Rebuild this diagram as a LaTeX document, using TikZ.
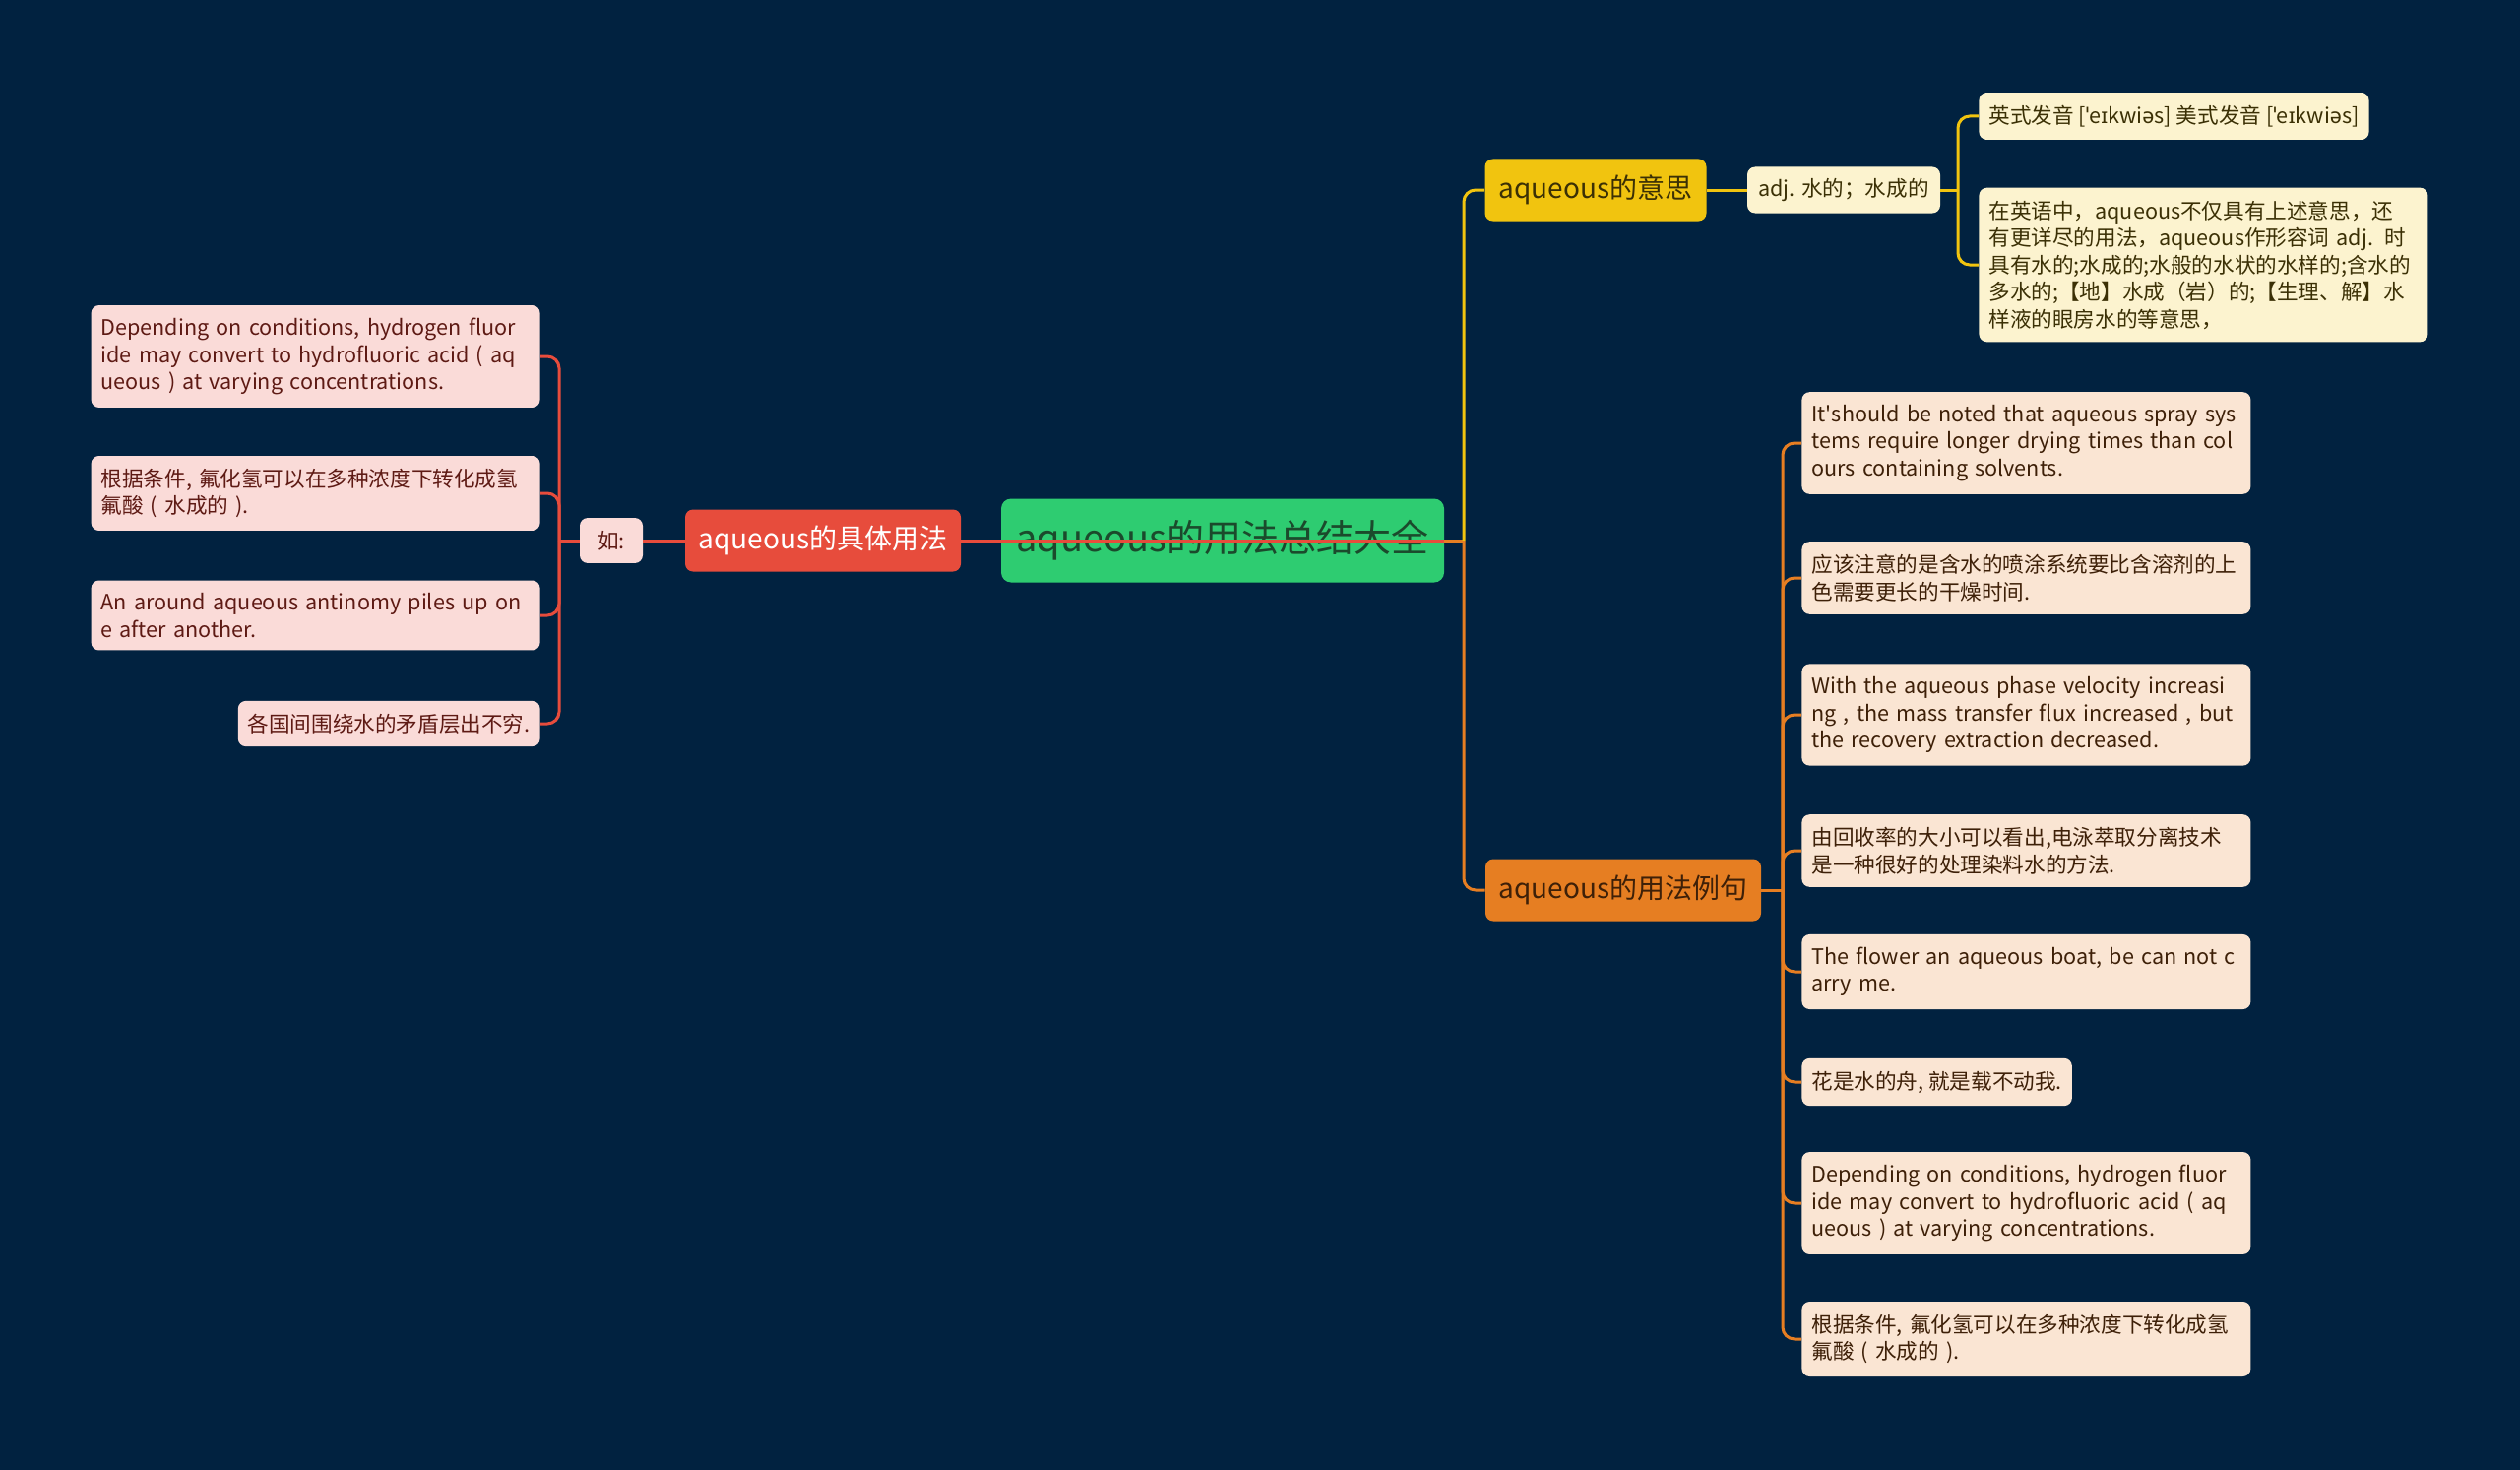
\documentclass[tikz,border=0pt]{standalone}
\usepackage{fontspec}
\setmainfont{Noto Sans CJK SC}
\newfontfamily\ipafont{Noto Sans}
\newcommand{\ipa}[1]{{\ipafont #1}}
\usetikzlibrary{positioning}

\definecolor{bgnavy}{HTML}{012240}
\definecolor{rootgreen}{HTML}{2ECC71}
\definecolor{rootink}{HTML}{1B4A2C}
\definecolor{usered}{HTML}{E74C3C}
\definecolor{meanyellow}{HTML}{F1C40F}
\definecolor{exorange}{HTML}{E67E22}
\definecolor{pinkleaf}{HTML}{FADBD8}
\definecolor{creamleaf}{HTML}{FCF3CF}
\definecolor{peachleaf}{HTML}{FAE5D3}
\definecolor{redink}{HTML}{5E1A14}
\definecolor{yellowink}{HTML}{3B3005}
\definecolor{orangeink}{HTML}{3E2008}

\tikzset{
  topic/.style={rounded corners=4pt,inner sep=0pt,minimum height=31.5pt,
    font=\fontsize{14pt}{17pt}\selectfont},
  leaf/.style={rounded corners=4pt,inner xsep=5pt,inner ysep=6.5pt,align=left,
    font=\fontsize{10.8pt}{13.75pt}\selectfont},
  pinkleafbox/.style={leaf,fill=pinkleaf,text=redink},
  creamleafbox/.style={leaf,fill=creamleaf,text=yellowink},
  peachleafbox/.style={leaf,fill=peachleaf,text=orangeink},
  wideleaf/.style={text width=218pt},
  link/.style={line width=1.5pt,rounded corners=6pt},
}

\begin{document}
\begin{tikzpicture}[x=0.5pt,y=-0.5pt]
\useasboundingbox (0,0) rectangle (2560,1493);
\fill[bgnavy] (0,0) rectangle (2560,1493);

\node[fill=rootgreen,text=rootink,rounded corners=5pt,minimum width=225pt,minimum height=42.5pt,
  font=\fontsize{19pt}{23pt}\selectfont] (root) at (1242,549) {aqueous的用法总结大全};

\node[topic,fill=usered,text=white,minimum width=140pt] (use) at (836,549) {aqueous的具体用法};
\node[pinkleafbox,minimum width=32pt,minimum height=22.5pt,inner xsep=0pt] (ru) at (621,549) {如:};
\node[pinkleafbox,wideleaf,anchor=east] (l1) at (549,362)
  {Depending on conditions, hydrogen fluor\\ide may convert to hydrofluoric acid ( aq\\ueous ) at varying concentrations.};
\node[pinkleafbox,wideleaf,anchor=east] (l2) at (549,501)
  {根据条件, 氟化氢可以在多种浓度下转化成氢\\氟酸 ( 水成的 ).};
\node[pinkleafbox,wideleaf,anchor=east] (l3) at (549,625)
  {An around aqueous antinomy piles up on\\e after another.};
\node[pinkleafbox,anchor=east] (l4) at (549,735) {各国间围绕水的矛盾层出不穷.};

\node[topic,fill=meanyellow,text=yellowink,minimum width=112.5pt] (mean) at (1621,193) {aqueous的意思};
\node[creamleafbox,minimum width=98pt,minimum height=23.5pt,inner ysep=0pt] (adj) at (1873,193) {adj. 水的；水成的};
\node[creamleafbox,anchor=west] (y1) at (2010,118)
  {英式发音 [\ipa{ˈ}e\ipa{ɪ}kwi\ipa{ə}s] 美式发音 [\ipa{ˈ}e\ipa{ɪ}kwi\ipa{ə}s]};
\node[creamleafbox,wideleaf,anchor=west] (y2) at (2010,269)
  {在英语中，aqueous不仅具有上述意思，还\\有更详尽的用法，aqueous作形容词 adj. 时\\具有水的;水成的;水般的水状的水样的;含水的\\多水的;【地】水成（岩）的;【生理、解】水\\样液的眼房水的等意思，};

\node[topic,fill=exorange,text=orangeink,minimum width=140pt] (ex) at (1649,904) {aqueous的用法例句};
\node[peachleafbox,wideleaf,anchor=west] (o1) at (1830,450)
  {It\textquotesingle should be noted that aqueous spray sys\\tems require longer drying times than col\\ours containing solvents.};
\node[peachleafbox,wideleaf,anchor=west] (o2) at (1830,587)
  {应该注意的是含水的喷涂系统要比含溶剂的上\\色需要更长的干燥时间.};
\node[peachleafbox,wideleaf,anchor=west] (o3) at (1830,726)
  {With the aqueous phase velocity increasi\\ng , the mass transfer flux increased , but\\the recovery extraction decreased.};
\node[peachleafbox,wideleaf,anchor=west] (o4) at (1830,864)
  {由回收率的大小可以看出,电泳萃取分离技术\\是一种很好的处理染料水的方法.};
\node[peachleafbox,wideleaf,anchor=west] (o5) at (1830,987)
  {The flower an aqueous boat, be can not c\\arry me.};
\node[peachleafbox,anchor=west] (o6) at (1830,1099) {花是水的舟, 就是载不动我.};
\node[peachleafbox,wideleaf,anchor=west] (o7) at (1830,1222)
  {Depending on conditions, hydrogen fluor\\ide may convert to hydrofluoric acid ( aq\\ueous ) at varying concentrations.};
\node[peachleafbox,wideleaf,anchor=west] (o8) at (1830,1360)
  {根据条件, 氟化氢可以在多种浓度下转化成氢\\氟酸 ( 水成的 ).};

\coordinate (rj) at (1487,549);
\coordinate (lb) at (568,549);
\coordinate (yb) at (1989,193);
\coordinate (ob) at (1811,904);

\draw[link,usered] (rj) -- (use.east);
\draw[link,exorange] (root.east) -- (rj);
\draw[link,meanyellow] (rj) |- (mean.west);
\draw[link,exorange] (rj) |- (ex.west);

\draw[link,usered] (use.west) -- (ru.east);
\draw[link,usered] (ru.west) -- (lb);
\foreach \n in {l1,l2,l3,l4}
  \draw[link,usered] (lb) |- (\n.east);

\draw[link,meanyellow] (mean.east) -- (adj.west);
\draw[link,meanyellow] (adj.east) -- (yb);
\foreach \n in {y1,y2}
  \draw[link,meanyellow] (yb) |- (\n.west);

\draw[link,exorange] (ex.east) -- (ob);
\foreach \n in {o1,o2,o3,o4,o5,o6,o7,o8}
  \draw[link,exorange] (ob) |- (\n.west);
\end{tikzpicture}
\end{document}
